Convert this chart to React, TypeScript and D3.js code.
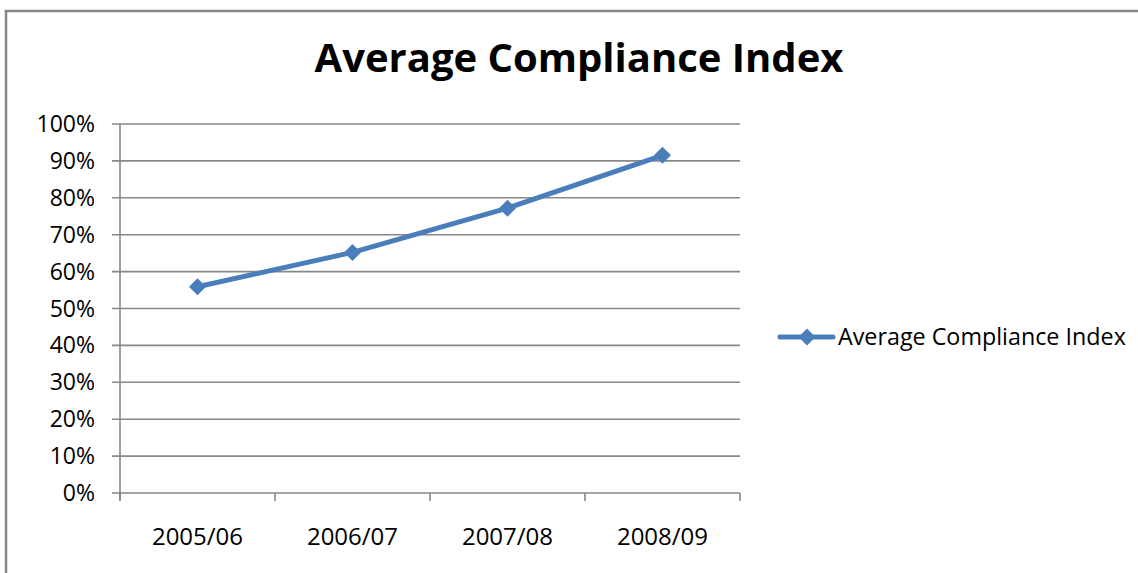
import * as d3 from "d3";

const categories = ["2005/06", "2006/07", "2007/08", "2008/09"];
const compliance = [0.559, 0.652, 0.772, 0.915];
const yTicks = [0, 0.1, 0.2, 0.3, 0.4, 0.5, 0.6, 0.7, 0.8, 0.9, 1.0];
const seriesName = "Average Compliance Index";

const W = 1138;
const H = 573;
const margin = { top: 124, right: 398, bottom: 80, left: 120 };
const FONT = "'Open Sans', 'Noto Sans', sans-serif";
const GRID = "#888888";
const BLUE = "#4a7ebb";

const diamond = (cx: number, cy: number, r: number) =>
  `M${cx},${cy - r}L${cx + r},${cy}L${cx},${cy + r}L${cx - r},${cy}Z`;

export default function App() {
  const innerW = W - margin.left - margin.right;
  const innerH = H - margin.top - margin.bottom;

  const x = d3.scaleBand<string>().domain(categories).range([margin.left, margin.left + innerW]);
  const y = d3.scaleLinear().domain([0, 1]).range([margin.top + innerH, margin.top]);
  const fmt = d3.format(".0%");

  const pts = categories.map((c, i) => [x(c)! + x.bandwidth() / 2, y(compliance[i])] as [number, number]);
  const line = d3.line()(pts)!;

  const bottom = y(0);
  const bandEdges = [...categories.map((c) => x(c)!), x.range()[1]];

  return (
    <svg
      width={W}
      height={H}
      style={{ position: "absolute", left: 0, top: 0, background: "#fff" }}
      fontFamily={FONT}
    >
      <rect x={6} y={11} width={1300} height={800} fill="#fff" stroke={GRID} strokeWidth={2.5} />

      <text x={579} y={72} textAnchor="middle" fontSize={40} fontWeight="bold" fill="#000">
        {seriesName}
      </text>

      {yTicks.map((t) => (
        <g key={t}>
          <line x1={112} x2={x.range()[1]} y1={y(t)} y2={y(t)} stroke={GRID} strokeWidth={1.6} />
          <text x={95} y={y(t) + 8} textAnchor="end" fontSize={23} fill="#000">
            {fmt(t)}
          </text>
        </g>
      ))}

      <line x1={margin.left} x2={margin.left} y1={y(1)} y2={bottom + 8} stroke={GRID} strokeWidth={1.6} />
      {bandEdges.map((bx, i) => (
        <line key={i} x1={bx} x2={bx} y1={bottom} y2={bottom + 8} stroke={GRID} strokeWidth={1.6} />
      ))}

      {categories.map((c) => (
        <text key={c} x={x(c)! + x.bandwidth() / 2} y={545} textAnchor="middle" fontSize={24} fill="#000">
          {c}
        </text>
      ))}

      <path d={line} fill="none" stroke={BLUE} strokeWidth={5} strokeLinejoin="round" />
      {pts.map(([px, py], i) => (
        <path key={i} d={diamond(px, py, 8.5)} fill={BLUE} />
      ))}

      <line x1={780} x2={833} y1={337} y2={337} stroke={BLUE} strokeWidth={5} strokeLinecap="round" />
      <path d={diamond(807, 337, 8.5)} fill={BLUE} />
      <text x={838} y={345} fontSize={23.3} fill="#000">
        {seriesName}
      </text>
    </svg>
  );
}
